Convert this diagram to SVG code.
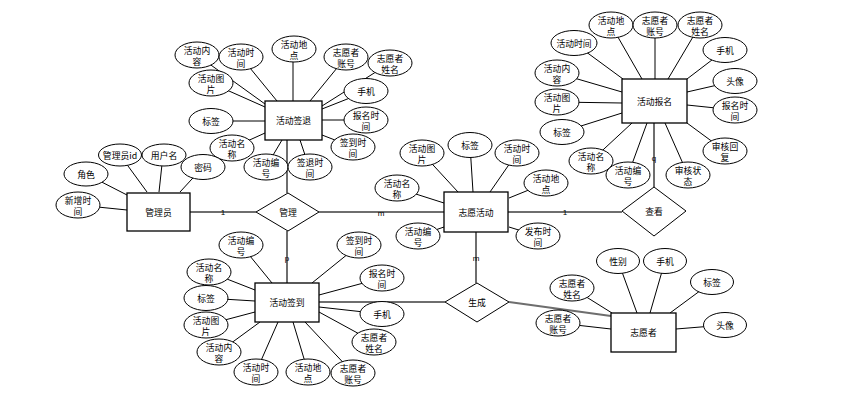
<svg xmlns="http://www.w3.org/2000/svg" width="865" height="400" viewBox="0 0 865 400">
<style>
.a{fill:#fff;stroke:#000;stroke-width:1}
.e{fill:#fff;stroke:#000;stroke-width:1.3}
.r{fill:#fff;stroke:#000;stroke-width:1}
.l{stroke:#000;stroke-width:1;fill:none}
.c{stroke:#6e6e6e;stroke-width:2;fill:none}
text{font-family:"Noto Sans CJK SC","Liberation Sans",sans-serif;font-size:8.8px;text-anchor:middle;dominant-baseline:central;fill:#000}
.k{font-family:"Liberation Sans",sans-serif;font-size:8px}
</style>
<rect width="865" height="400" fill="#fff"/>
<g id="connectors">
<path class="c" d="M190,212H256M319,212H444M287,140V193M287,231V283M508,212H622M654,123V187M476,232V283M319,302H445M509,302L611,316"/>
<text class="k" x="223" y="212">1</text>
<text class="k" x="381" y="213">m</text>
<text class="k" x="287" y="258">p</text>
<text class="k" x="565" y="212">1</text>
<text class="k" x="654" y="158">q</text>
<text class="k" x="476" y="258">m</text>
<path class="l" d="M197,55L265,104M241,57L277,101M293,48V101M346,57L310,101M390,63L322,106M211,83L265,107M365,92L322,109M211,121H265M365,120H322M232,148L265,133M353,147L322,135M266,167L282,140M309,167L300,140"/>
<path class="l" d="M120,155L147,192M163,155L159,192M86,174L127,195M78,205L127,210M203,167L180,192"/>
<path class="l" d="M422,153L458,192M470,145L473,192M517,153L490,192M546,183L509,198M397,188L444,203M418,236L444,227M538,236L509,227"/>
<path class="l" d="M611,25L642,79M655,25V79M700,25L668,79M574,43L623,79M725,50L687,79M557,73L622,92M735,81L687,92M557,102L622,103M735,110L687,105M562,132L622,113M725,151L687,123M591,161L632,123M628,175L647,123M688,175L665,123"/>
<path class="l" d="M241,245L272,283M359,245L312,283M209,272L255,290M382,278L319,295M206,298L255,301M206,325L255,312M382,314L319,307M219,352L260,322M374,342L319,312M256,372L278,322M308,372L293,322M353,373L305,322"/>
<path class="l" d="M618,261L637,313M665,261L650,313M712,282L670,313M572,288L612,313M558,323L611,329M725,325L676,329"/>
</g>

<g id="e-guanliyuan"><rect class="e" x="127" y="193" width="63" height="38"/><text x="158.5" y="212">管理员</text></g>
<g id="r-guanli"><polygon class="r" points="256,212 288,193 319,212 288,231"/><text x="288" y="212">管理</text></g>
<g id="e-zhiyuanhuodong"><rect class="e" x="444" y="192" width="64" height="40"/><text x="476" y="212">志愿活动</text></g>
<g id="r-chakan"><polygon class="r" points="622,211 654,187 686,211 654,236"/><text x="654" y="211">查看</text></g>
<g id="e-huodongqiantui"><rect class="e" x="265" y="101" width="57" height="39"/><text x="293.5" y="120.5">活动签退</text></g>
<g id="e-huodongbaoming"><rect class="e" x="622" y="79" width="65" height="44"/><text x="654.5" y="101">活动报名</text></g>
<g id="e-huodongqiandao"><rect class="e" x="255" y="283" width="64" height="39"/><text x="287" y="302.5">活动签到</text></g>
<g id="r-shengcheng"><polygon class="r" points="445,302 477,283 509,302 477,322"/><text x="477" y="302">生成</text></g>
<g id="e-zhiyuanzhe"><rect class="e" x="611" y="313" width="65" height="39"/><text x="643.5" y="332.5">志愿者</text></g>

<g id="qt-neirong"><ellipse class="a" cx="197" cy="55" rx="22" ry="13"/><text><tspan x="197" y="49.5">活动内</tspan><tspan x="197" y="60.5">容</tspan></text></g>
<g id="qt-shijian"><ellipse class="a" cx="241" cy="57" rx="22" ry="13"/><text><tspan x="241" y="51.5">活动时</tspan><tspan x="241" y="62.5">间</tspan></text></g>
<g id="qt-didian"><ellipse class="a" cx="294" cy="49" rx="22" ry="13"/><text><tspan x="294" y="43.5">活动地</tspan><tspan x="294" y="54.5">点</tspan></text></g>
<g id="qt-zhanghao"><ellipse class="a" cx="346" cy="57" rx="22" ry="13"/><text><tspan x="346" y="51.5">志愿者</tspan><tspan x="346" y="62.5">账号</tspan></text></g>
<g id="qt-xingming"><ellipse class="a" cx="390" cy="63" rx="22" ry="13"/><text><tspan x="390" y="57.5">志愿者</tspan><tspan x="390" y="68.5">姓名</tspan></text></g>
<g id="qt-tupian"><ellipse class="a" cx="211" cy="83" rx="22" ry="13"/><text><tspan x="211" y="77.5">活动图</tspan><tspan x="211" y="88.5">片</tspan></text></g>
<g id="qt-shouji"><ellipse class="a" cx="366" cy="91" rx="22" ry="12.5"/><text x="366" y="91">手机</text></g>
<g id="qt-biaoqian"><ellipse class="a" cx="211" cy="121" rx="22" ry="12.5"/><text x="211" y="121">标签</text></g>
<g id="qt-baomingshijian"><ellipse class="a" cx="366" cy="120" rx="22" ry="13"/><text><tspan x="366" y="114.5">报名时</tspan><tspan x="366" y="125.5">间</tspan></text></g>
<g id="qt-mingcheng"><ellipse class="a" cx="232" cy="148" rx="22" ry="13"/><text><tspan x="232" y="142.5">活动名</tspan><tspan x="232" y="153.5">称</tspan></text></g>
<g id="qt-qiandaoshijian"><ellipse class="a" cx="353" cy="147" rx="22" ry="13"/><text><tspan x="353" y="141.5">签到时</tspan><tspan x="353" y="152.5">间</tspan></text></g>
<g id="qt-bianhao"><ellipse class="a" cx="266" cy="167" rx="22" ry="13"/><text><tspan x="266" y="161.5">活动编</tspan><tspan x="266" y="172.5">号</tspan></text></g>
<g id="qt-qiantuishijian"><ellipse class="a" cx="310" cy="167" rx="22" ry="13"/><text><tspan x="310" y="161.5">签退时</tspan><tspan x="310" y="172.5">间</tspan></text></g>

<g id="gly-id"><ellipse class="a" cx="120" cy="155" rx="21.5" ry="11"/><text x="120" y="155">管理员id</text></g>
<g id="gly-yonghuming"><ellipse class="a" cx="164" cy="155" rx="22" ry="11"/><text x="164" y="155">用户名</text></g>
<g id="gly-juese"><ellipse class="a" cx="86" cy="174" rx="22" ry="12"/><text x="86" y="174">角色</text></g>
<g id="gly-xinzeng"><ellipse class="a" cx="78" cy="205" rx="22" ry="13"/><text><tspan x="78" y="199.5">新增时</tspan><tspan x="78" y="210.5">间</tspan></text></g>
<g id="gly-mima"><ellipse class="a" cx="203" cy="167" rx="22" ry="12.5"/><text x="203" y="167">密码</text></g>

<g id="hd-tupian"><ellipse class="a" cx="422" cy="153" rx="22" ry="13"/><text><tspan x="422" y="147.5">活动图</tspan><tspan x="422" y="158.5">片</tspan></text></g>
<g id="hd-biaoqian"><ellipse class="a" cx="470" cy="145" rx="22" ry="12.5"/><text x="470" y="145">标签</text></g>
<g id="hd-shijian"><ellipse class="a" cx="517" cy="153" rx="22" ry="13"/><text><tspan x="517" y="147.5">活动时</tspan><tspan x="517" y="158.5">间</tspan></text></g>
<g id="hd-didian"><ellipse class="a" cx="546" cy="183" rx="22" ry="13"/><text><tspan x="546" y="177.5">活动地</tspan><tspan x="546" y="188.5">点</tspan></text></g>
<g id="hd-mingcheng"><ellipse class="a" cx="397" cy="188" rx="22" ry="13"/><text><tspan x="397" y="182.5">活动名</tspan><tspan x="397" y="193.5">称</tspan></text></g>
<g id="hd-bianhao"><ellipse class="a" cx="418" cy="236" rx="22" ry="13"/><text><tspan x="418" y="230.5">活动编</tspan><tspan x="418" y="241.5">号</tspan></text></g>
<g id="hd-fabu"><ellipse class="a" cx="538" cy="236" rx="22" ry="13"/><text><tspan x="538" y="230.5">发布时</tspan><tspan x="538" y="241.5">间</tspan></text></g>

<g id="bm-didian"><ellipse class="a" cx="611" cy="25" rx="22" ry="13"/><text><tspan x="611" y="19.5">活动地</tspan><tspan x="611" y="30.5">点</tspan></text></g>
<g id="bm-zhanghao"><ellipse class="a" cx="655" cy="25" rx="22" ry="13"/><text><tspan x="655" y="19.5">志愿者</tspan><tspan x="655" y="30.5">账号</tspan></text></g>
<g id="bm-xingming"><ellipse class="a" cx="700" cy="25" rx="22" ry="13"/><text><tspan x="700" y="19.5">志愿者</tspan><tspan x="700" y="30.5">姓名</tspan></text></g>
<g id="bm-shijian"><ellipse class="a" cx="574" cy="43" rx="23" ry="12.5"/><text x="574" y="43">活动时间</text></g>
<g id="bm-shouji"><ellipse class="a" cx="725" cy="50" rx="22" ry="12.5"/><text x="725" y="50">手机</text></g>
<g id="bm-neirong"><ellipse class="a" cx="557" cy="73" rx="22" ry="13"/><text><tspan x="557" y="67.5">活动内</tspan><tspan x="557" y="78.5">容</tspan></text></g>
<g id="bm-touxiang"><ellipse class="a" cx="735" cy="81" rx="22" ry="12.5"/><text x="735" y="81">头像</text></g>
<g id="bm-tupian"><ellipse class="a" cx="557" cy="102" rx="22" ry="13"/><text><tspan x="557" y="96.5">活动图</tspan><tspan x="557" y="107.5">片</tspan></text></g>
<g id="bm-baomingshijian"><ellipse class="a" cx="735" cy="110" rx="22" ry="13"/><text><tspan x="735" y="104.5">报名时</tspan><tspan x="735" y="115.5">间</tspan></text></g>
<g id="bm-biaoqian"><ellipse class="a" cx="562" cy="132" rx="22" ry="12.5"/><text x="562" y="132">标签</text></g>
<g id="bm-huifu"><ellipse class="a" cx="725" cy="151" rx="22" ry="13"/><text><tspan x="725" y="145.5">审核回</tspan><tspan x="725" y="156.5">复</tspan></text></g>
<g id="bm-mingcheng"><ellipse class="a" cx="591" cy="161" rx="22" ry="13"/><text><tspan x="591" y="155.5">活动名</tspan><tspan x="591" y="166.5">称</tspan></text></g>
<g id="bm-bianhao"><ellipse class="a" cx="628" cy="175" rx="22" ry="13"/><text><tspan x="628" y="169.5">活动编</tspan><tspan x="628" y="180.5">号</tspan></text></g>
<g id="bm-zhuangtai"><ellipse class="a" cx="688" cy="175" rx="22" ry="13"/><text><tspan x="688" y="169.5">审核状</tspan><tspan x="688" y="180.5">态</tspan></text></g>

<g id="qd-bianhao"><ellipse class="a" cx="241" cy="245" rx="22" ry="13"/><text><tspan x="241" y="239.5">活动编</tspan><tspan x="241" y="250.5">号</tspan></text></g>
<g id="qd-qiandaoshijian"><ellipse class="a" cx="359" cy="245" rx="22" ry="13"/><text><tspan x="359" y="239.5">签到时</tspan><tspan x="359" y="250.5">间</tspan></text></g>
<g id="qd-mingcheng"><ellipse class="a" cx="209" cy="272" rx="22" ry="13"/><text><tspan x="209" y="266.5">活动名</tspan><tspan x="209" y="277.5">称</tspan></text></g>
<g id="qd-baomingshijian"><ellipse class="a" cx="382" cy="278" rx="22" ry="13"/><text><tspan x="382" y="272.5">报名时</tspan><tspan x="382" y="283.5">间</tspan></text></g>
<g id="qd-biaoqian"><ellipse class="a" cx="206" cy="298" rx="22" ry="12.5"/><text x="206" y="298">标签</text></g>
<g id="qd-tupian"><ellipse class="a" cx="206" cy="325" rx="22" ry="13"/><text><tspan x="206" y="319.5">活动图</tspan><tspan x="206" y="330.5">片</tspan></text></g>
<g id="qd-shouji"><ellipse class="a" cx="382" cy="314" rx="22" ry="12.5"/><text x="382" y="314">手机</text></g>
<g id="qd-neirong"><ellipse class="a" cx="219" cy="352" rx="22" ry="13"/><text><tspan x="219" y="346.5">活动内</tspan><tspan x="219" y="357.5">容</tspan></text></g>
<g id="qd-xingming"><ellipse class="a" cx="374" cy="342" rx="22" ry="13"/><text><tspan x="374" y="336.5">志愿者</tspan><tspan x="374" y="347.5">姓名</tspan></text></g>
<g id="qd-shijian"><ellipse class="a" cx="256" cy="372" rx="22" ry="13"/><text><tspan x="256" y="366.5">活动时</tspan><tspan x="256" y="377.5">间</tspan></text></g>
<g id="qd-didian"><ellipse class="a" cx="308" cy="372" rx="22" ry="13"/><text><tspan x="308" y="366.5">活动地</tspan><tspan x="308" y="377.5">点</tspan></text></g>
<g id="qd-zhanghao"><ellipse class="a" cx="353" cy="373" rx="22" ry="13"/><text><tspan x="353" y="367.5">志愿者</tspan><tspan x="353" y="378.5">账号</tspan></text></g>

<g id="zyz-xingbie"><ellipse class="a" cx="618" cy="261" rx="21.5" ry="12.5"/><text x="618" y="261">性别</text></g>
<g id="zyz-shouji"><ellipse class="a" cx="665" cy="261" rx="21.5" ry="12.5"/><text x="665" y="261">手机</text></g>
<g id="zyz-biaoqian"><ellipse class="a" cx="712" cy="282" rx="21.5" ry="12.5"/><text x="712" y="282">标签</text></g>
<g id="zyz-xingming"><ellipse class="a" cx="572" cy="288" rx="22" ry="13"/><text><tspan x="572" y="282.5">志愿者</tspan><tspan x="572" y="293.5">姓名</tspan></text></g>
<g id="zyz-zhanghao"><ellipse class="a" cx="558" cy="323" rx="22" ry="13"/><text><tspan x="558" y="317.5">志愿者</tspan><tspan x="558" y="328.5">账号</tspan></text></g>
<g id="zyz-touxiang"><ellipse class="a" cx="725" cy="325" rx="21.5" ry="12.5"/><text x="725" y="325">头像</text></g>
</svg>
